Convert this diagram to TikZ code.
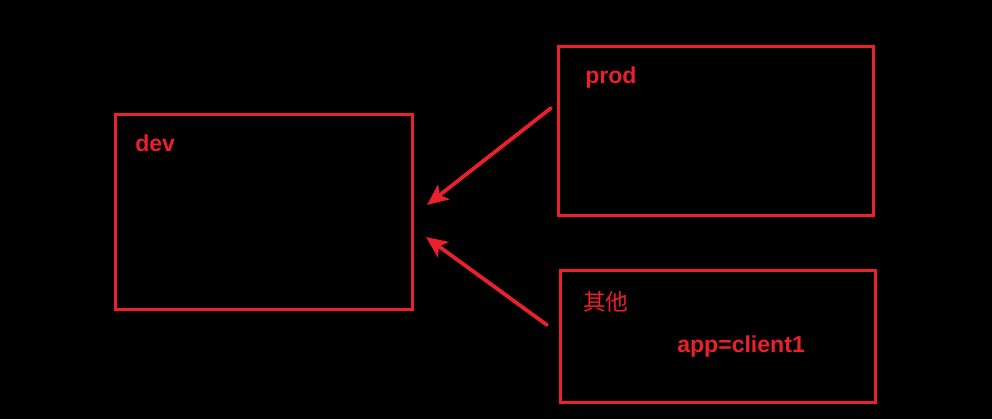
\documentclass[tikz,border=0pt]{standalone}
\usepackage{fontspec}
\setmainfont{Liberation Sans}
\newfontfamily\cjk{Noto Sans CJK SC}
\definecolor{envred}{RGB}{234,32,42}
\tikzset{
  envbox/.style={draw=envred, line width=2.25pt, inner sep=0pt},
  envlbl/.style={text=envred, anchor=base west, inner sep=0pt, font=\fontsize{17.3}{20}\selectfont\bfseries},
  cjklbl/.style={text=envred, anchor=base west, inner sep=0pt, font=\fontsize{17}{20}\selectfont\cjk},
  link/.style={draw=envred, line width=2.8pt, line cap=round, -{Stealth[length=16pt,width=14pt,inset=4pt]}}
}
\usetikzlibrary{arrows.meta}
\begin{document}
\begin{tikzpicture}[x=0.75pt, y=-0.75pt]
	\fill[black] (0,0) rectangle (992,419);
	\useasboundingbox (0,0) rectangle (992,419);
	% boxes
	\node[envbox, minimum width=222.75pt, minimum height=146.25pt] (dev) at (263.5,211.5) {};
	\node[envbox, minimum width=236.25pt, minimum height=126.75pt] (prod) at (715.5,130.5) {};
	\node[envbox, minimum width=236.25pt, minimum height=99pt] (other) at (717.5,336) {};
	% labels
	\node[envlbl] (devlbl) at (135,151) {dev};
	\node[envlbl] (prodlbl) at (585,83) {prod};
	\node[cjklbl] (otherlbl) at (583,310) {其他};
	\node[envlbl] (applbl) at (677,352) {app=client1};
	% arrows
	\coordinate (p1) at (551,108);
	\coordinate (p2) at (547,325);
	\coordinate (d1) at (427,205);
	\coordinate (d2) at (426,237);
	\draw[link] (p1) -- (d1);
	\draw[link] (p2) -- (d2);
\end{tikzpicture}
\end{document}
